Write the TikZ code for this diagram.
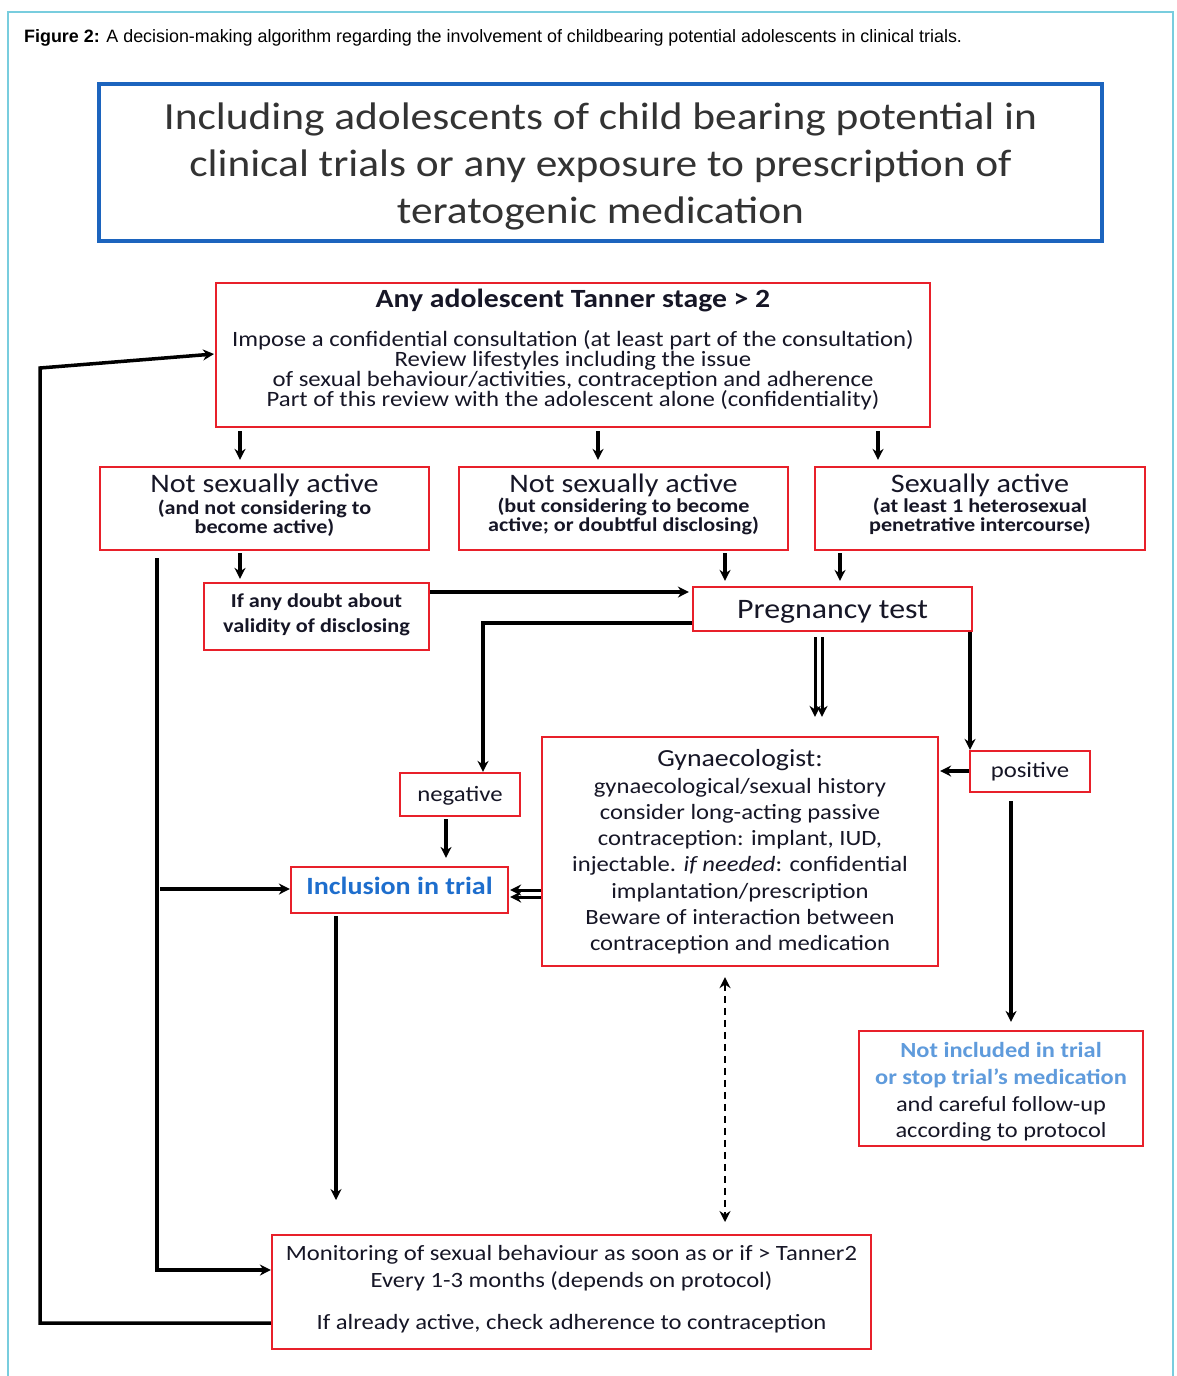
\documentclass[tikz,border=0pt]{standalone}
\usepackage{fontspec}
\setmainfont{Carlito}[FakeStretch=1.13]
\newfontfamily\capfont{Liberation Sans}
\usetikzlibrary{arrows.meta}
\definecolor{boxred}{RGB}{232,32,42}
\definecolor{titleblue}{RGB}{28,100,190}
\definecolor{framecol}{RGB}{120,205,222}
\definecolor{incblue}{RGB}{30,110,205}
\definecolor{lightblue}{RGB}{95,155,220}
\definecolor{txt}{RGB}{22,22,38}
\begin{document}
\begin{tikzpicture}[x=1pt,y=-1pt,
  redbox/.style={draw=boxred,line width=2.2pt,fill=white,inner sep=0pt},
  tx/.style={text=txt,align=center,inner sep=0pt},
  conn/.style={line width=3.5pt,-{Stealth[length=11pt,width=11pt]}},
  dconn/.style={line width=2.8pt,dash pattern=on 7pt off 5pt,{Stealth[length=11pt,width=11pt]}-{Stealth[length=11pt,width=11pt]}},
]
\useasboundingbox (0,0) rectangle (1177,1376);
\fill[white] (0,0) rectangle (1177,1376);
\draw[framecol,line width=1.2pt] (8,1376) -- (8,12) -- (1173,12) -- (1173,1376);

\node[anchor=base west,inner sep=0pt,font=\capfont\fontsize{17.9}{20}\selectfont] (cap) at (24,42)
 {\textbf{Figure 2:} A decision-making algorithm regarding the involvement of childbearing potential adolescents in clinical trials.};

% title
\node[draw=titleblue,line width=4.5pt,minimum width=1003pt,minimum height=157pt,inner sep=0pt] (title) at (600.5,162.5) {};
\node[tx,text=black!80,font=\fontsize{38.4}{47}\selectfont] (titletext) at (600.5,166)
 {Including adolescents of child bearing potential in\\clinical trials or any exposure to prescription of\\teratogenic medication};

% top box
\node[redbox,minimum width=714pt,minimum height=144pt] (top) at (573,355) {};
\node[tx,anchor=base,font=\fontsize{26.3}{30}\selectfont\bfseries] (toptitle) at (573,307) {Any adolescent Tanner stage > 2};
\node[tx,font=\fontsize{21.9}{20}\selectfont] (topbody) at (573,370)
 {Impose a confidential consultation (at least part of the consultation)\\Review lifestyles including the issue\\of sexual behaviour/activities, contraception and adherence\\Part of this review with the adolescent alone (confidentiality)};

% three boxes
\node[redbox,minimum width=329pt,minimum height=83pt] (A) at (264.5,508.5) {};
\node[redbox,minimum width=329pt,minimum height=83pt] (B) at (623.5,508.5) {};
\node[redbox,minimum width=330pt,minimum height=83pt] (C) at (980,508.5) {};
\node[tx,anchor=base,font=\fontsize{26.7}{28}\selectfont] (Ah) at (264.5,492) {Not sexually active};
\node[tx,anchor=base,font=\fontsize{26.7}{28}\selectfont] (Bh) at (623.5,492) {Not sexually active};
\node[tx,anchor=base,font=\fontsize{26.7}{28}\selectfont] (Ch) at (980,492) {Sexually active};
\node[tx,font=\fontsize{19.6}{19}\selectfont\bfseries] (As) at (264.5,518) {(and not considering to\\become active)};
\node[tx,font=\fontsize{19.6}{19}\selectfont\bfseries] (Bs) at (623.5,516) {(but considering to become\\active; or doubtful disclosing)};
\node[tx,font=\fontsize{19.6}{19}\selectfont\bfseries] (Cs) at (980,516) {(at least 1 heterosexual\\penetrative intercourse)};

% doubt box
\node[redbox,minimum width=225pt,minimum height=67pt] (doubt) at (316.5,616.5) {};
\node[tx,font=\fontsize{19.7}{25}\selectfont\bfseries] (doubtt) at (316.5,615) {If any doubt about\\validity of disclosing};

% pregnancy test
\node[redbox,minimum width=279pt,minimum height=44pt] (preg) at (832.5,609) {};
\node[tx,anchor=base,font=\fontsize{28.2}{30}\selectfont] (pregt) at (832.5,618) {Pregnancy test};

% negative / positive
\node[redbox,minimum width=120pt,minimum height=43pt] (neg) at (460,794.5) {};
\node[tx,anchor=base,font=\fontsize{21.9}{24}\selectfont] (negt) at (460,801) {negative};
\node[redbox,minimum width=120pt,minimum height=41pt] (pos) at (1030,771.5) {};
\node[tx,anchor=base,font=\fontsize{21.9}{24}\selectfont] (post) at (1030,777) {positive};

% inclusion
\node[redbox,minimum width=217pt,minimum height=46pt] (incl) at (399.5,890) {};
\node[tx,anchor=base,text=incblue,font=\fontsize{24.8}{28}\selectfont\bfseries] (inclt) at (399.5,894) {Inclusion in trial};

% gynaecologist
\node[redbox,minimum width=396pt,minimum height=229pt] (gyn) at (740,851.5) {};
\node[tx,font=\fontsize{21.8}{26.3}\selectfont] (gynt) at (740,852)
 {{\fontsize{24.6}{26.3}\selectfont Gynaecologist:}\\gynaecological/sexual history\\consider long-acting passive\\contraception: implant, IUD,\\injectable. \textit{if needed}: confidential\\implantation/prescription\\Beware of interaction between\\contraception and medication};

% not included
\node[redbox,minimum width=284pt,minimum height=115pt] (notinc) at (1001,1088.5) {};
\node[tx,font=\fontsize{21.6}{26.7}\selectfont] (notinct) at (1001,1092)
 {\textcolor{lightblue}{\bfseries Not included in trial}\\\textcolor{lightblue}{\bfseries or stop trial’s medication}\\and careful follow-up\\according to protocol};

% monitoring
\node[redbox,minimum width=599pt,minimum height=114pt] (mon) at (571.5,1292) {};
\node[tx,font=\fontsize{21.8}{27}\selectfont] (mont) at (571.5,1268)
 {Monitoring of sexual behaviour as soon as or if > Tanner2\\Every 1-3 months (depends on protocol)};
\node[tx,anchor=base,font=\fontsize{21.8}{27}\selectfont] (mont2) at (571.5,1329)
 {If already active, check adherence to contraception};

% helper coordinates
\coordinate (xa) at (240,0);
\coordinate (xb) at (598,0);
\coordinate (xc) at (878,0);
\coordinate (xb2) at (725,0);
\coordinate (xc2) at (840,0);
\coordinate (y592) at (0,592);
\coordinate (y623) at (0,623);
\coordinate (xneg) at (483,0);
\coordinate (xd1) at (815,0);
\coordinate (xd2) at (822,0);
\coordinate (xpos) at (970,0);
\coordinate (y771) at (0,771);
\coordinate (y890) at (0,890);
\coordinate (y897) at (0,897);
\coordinate (xnn) at (446,0);
\coordinate (xni) at (1011,0);
\coordinate (dashend) at (725,1222);
\coordinate (inclend) at (336,1200);
\coordinate (lineA) at (157,558);
\coordinate (y1270) at (0,1270);
\coordinate (lineIn) at (160,889);
\coordinate (loopb) at (40,1323);
\coordinate (loopt) at (40,368);
\coordinate (toparr) at (214,354);
\coordinate (y1323) at (0,1323);

% connectors
\draw[conn,shorten <=3pt,shorten >=6pt] (top.south -| xa) -- (A.north -| xa);
\draw[conn,shorten <=3pt,shorten >=6pt] (top.south -| xb) -- (B.north -| xb);
\draw[conn,shorten <=3pt,shorten >=6pt] (top.south -| xc) -- (C.north -| xc);
\draw[conn,shorten <=2pt,shorten >=3pt] (A.south -| xa) -- (doubt.north -| xa);
\draw[conn,shorten <=2pt,shorten >=5pt] (B.south -| xb2) -- (preg.north -| xb2);
\draw[conn,shorten <=2pt,shorten >=5pt] (C.south -| xc2) -- (preg.north -| xc2);
\draw[conn,shorten >=3pt] (doubt.east |- y592) -- (preg.west |- y592);
\draw[conn] (preg.west |- y623) -| (neg.north -| xneg);
\draw[conn,line width=3pt,shorten <=5pt,shorten >=19pt] (preg.south -| xd1) -- (gyn.north -| xd1);
\draw[conn,line width=3pt,shorten <=5pt,shorten >=19pt] (preg.south -| xd2) -- (gyn.north -| xd2);
\draw[conn] (preg.south -| xpos) -- (pos.north -| xpos);
\draw[conn,shorten >=1pt] (pos.west |- y771) -- (gyn.east |- y771);
\draw[conn,shorten <=2pt,shorten >=8pt] (neg.south -| xnn) -- (incl.north -| xnn);
\draw[conn,line width=3pt,shorten >=1pt] (gyn.west |- y890) -- (incl.east |- y890);
\draw[conn,line width=3pt,shorten >=1pt] (gyn.west |- y897) -- (incl.east |- y897);
\draw[conn,shorten <=8pt,shorten >=8pt] (pos.south -| xni) -- (notinc.north -| xni);
\draw[dconn,shorten <=10pt] (gyn.south -| dashend) -- (dashend);
\draw[conn,shorten <=2pt] (incl.south -| inclend) -- (inclend);
\draw[conn] (lineA) |- (mon.west |- y1270);
\draw[conn] (lineIn) -- (incl.west |- lineIn);
\draw[conn] (mon.west |- y1323) -- (loopb) -- (loopt) -- (toparr);
\end{tikzpicture}
\end{document}
